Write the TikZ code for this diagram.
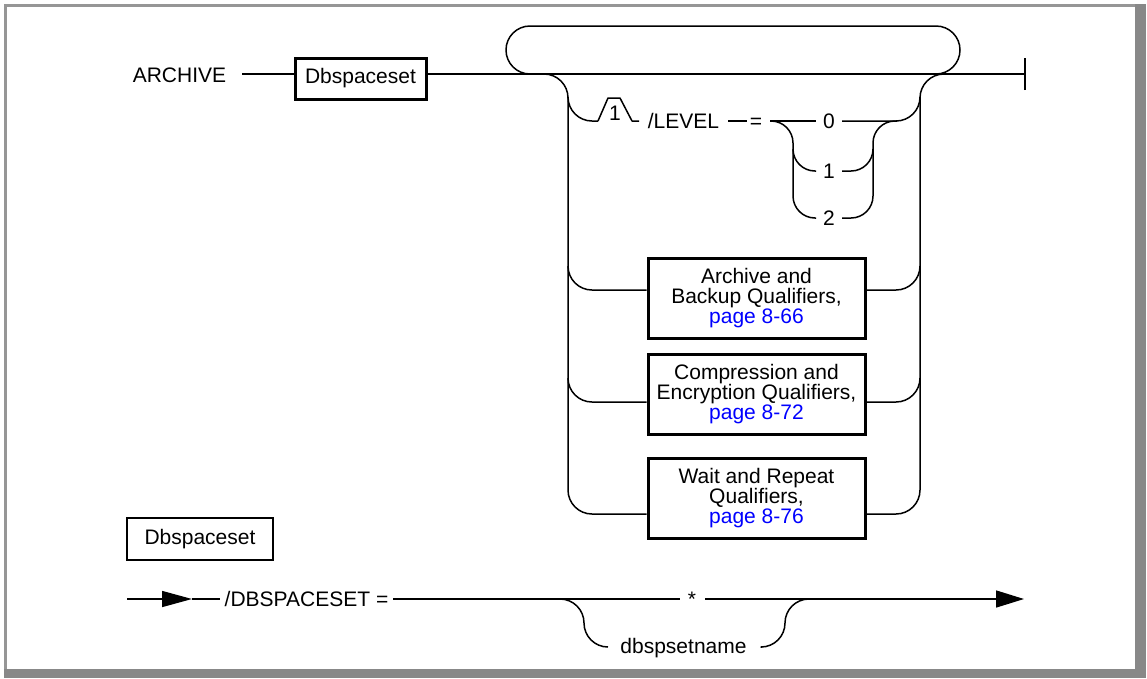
\documentclass[tikz,border=0pt]{standalone}
\usepackage{fontspec}
\setmainfont{Liberation Sans}
\usetikzlibrary{arrows.meta}
\definecolor{framegray}{RGB}{136,136,136}
\definecolor{framelight}{RGB}{150,150,150}
\definecolor{linkblue}{RGB}{0,0,255}

\begin{document}
\begin{tikzpicture}[x=1pt,y=-1pt,
  rail/.style={line width=1.5pt, line join=round},
  turn/.style={rail, rounded corners=24pt},
  subturn/.style={rail, rounded corners=22pt},
  kw/.style={font=\fontsize{21}{20}\selectfont, inner sep=0pt, anchor=base},
  synbox/.style={draw, line width=3pt, font=\fontsize{21}{20}\selectfont,
    inner sep=0pt, align=center},
  refbox/.style={synbox, minimum width=217pt, minimum height=80pt},
]
\useasboundingbox (0,0) rectangle (1147,678);

% page frame with shadow
\fill[framelight] (4,4) rectangle (1135,7);
\fill[framelight] (4,4) rectangle (7,670);
\fill[framegray] (1135,4) rectangle (1146,678);
\fill[framegray] (4,669) rectangle (1146,678);

% ---------------- ARCHIVE statement ----------------
\node[kw] (archive) at (179.5,82) {ARCHIVE};
\node[synbox, minimum width=131pt, minimum height=41pt] (dbs) at (360.5,78.5) {Dbspaceset};
\coordinate (a0) at (242,74);
\coordinate (endbar) at (1025,74);
\draw[rail] (a0) -- (a0 -| dbs.west);
\draw[rail] (dbs.east |- a0) -- (endbar);
\draw[rail] ([yshift=-16pt]endbar) -- ([yshift=16pt]endbar);

% repeat loop above the main line
\draw[turn] (530,74) -- (506,74) -- (506,26) -- (960,26) -- (960,74) -- (936,74);

% option rails
\node[refbox] (arch) at (756.5,298) {Archive and\\Backup Qualifiers,\\\textcolor{linkblue}{page 8-66}};
\node[refbox] (comp) at (756.5,394) {Compression and\\Encryption Qualifiers,\\\textcolor{linkblue}{page 8-72}};
\node[refbox] (wait) at (756.5,498) {Wait and Repeat\\Qualifiers,\\\textcolor{linkblue}{page 8-76}};

\coordinate (yarch) at (0,290);
\coordinate (ycomp) at (0,402);
\coordinate (ywait) at (0,514);

\draw[turn] (544,74) -- (568,74) -- (568,514) -- (wait.west |- ywait);
\draw[turn] (wait.east |- ywait) -- (920,514) -- (920,74) -- (944,74);
\draw[turn] (568,266) -- (568,290) -- (arch.west |- yarch);
\draw[turn] (arch.east |- yarch) -- (920,290) -- (920,266);
\draw[turn] (568,378) -- (568,402) -- (comp.west |- ycomp);
\draw[turn] (comp.east |- ycomp) -- (920,402) -- (920,378);

% /LEVEL option with footnote marker
\draw[turn] (568,97) -- (568,121) -- (598,121);
\draw[rail] (598,121) -- (608,98) -- (620,98) -- (632,121) -- (639,121);
\node[kw] (fn) at (615,120) {1};
\node[kw] (level) at (683.5,128.5) {/LEVEL};
\draw[rail] (728,121) -- (747,121);
\node[kw] (eq) at (756,128.5) {=};
\node[kw] (l0) at (829,128.5) {0};
\node[kw] (l1) at (829,178.5) {1};
\node[kw] (l2) at (829,225.5) {2};
\draw[rail] (770,121) -- (816,121);
\draw[turn] (842,121) -- (920,121) -- (920,97);
\draw[subturn] (770,121) -- (793,121) -- (793,218) -- (816,218);
\draw[subturn] (793,149) -- (793,171) -- (816,171);
\draw[subturn] (842,218) -- (873,218) -- (873,121) -- (897,121);
\draw[subturn] (842,171) -- (873,171) -- (873,149);

% ---------------- Dbspaceset element ----------------
\node[synbox, line width=2.7pt, minimum width=146pt, minimum height=42pt] (dbs2) at (200,539) {Dbspaceset};

\coordinate (b0) at (127,599);
\coordinate (b1) at (192,599);
\draw[rail, -{Triangle[length=30pt, width=16pt]}] (b0) -- (b1);
\draw[rail] (b1) -- (220,599);
\node[kw] (dset) at (306.5,606.5) {/DBSPACESET =};
\node[kw] (star) at (692,606.5) {*};
\draw[rail] (393,599) -- (680,599);
\coordinate (bend) at (1024,599);
\draw[rail, -{Triangle[length=28pt, width=17pt]}] (705,599) -- (bend);
\node[kw] (dname) at (683.5,653.5) {dbspsetname};
\draw[turn] (560,599) -- (584,599) -- (584,647) -- (608,647);
\draw[turn] (762,647) -- (785,647) -- (785,599) -- (809,599);
\end{tikzpicture}
\end{document}
